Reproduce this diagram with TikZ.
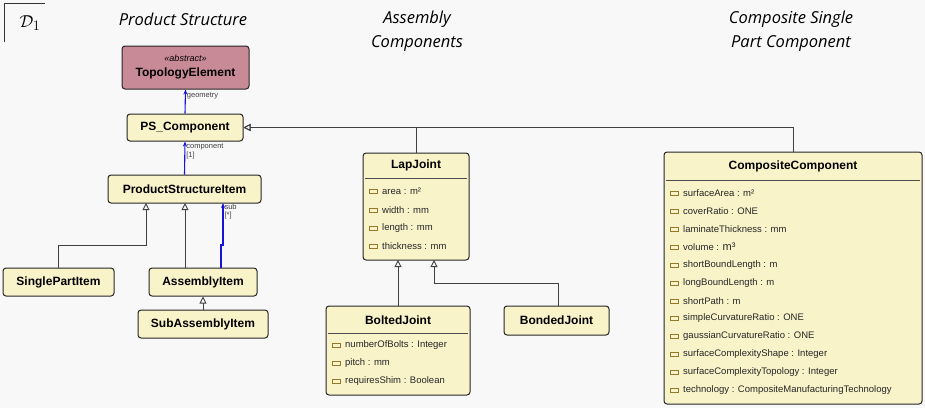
\documentclass[tikz,border=0pt]{standalone}
\usepackage{fontspec}
\setmainfont{Liberation Sans}
\newfontfamily\headfont{Open Sans}
\usetikzlibrary{arrows.meta}
\definecolor{boxfill}{RGB}{248,243,201}
\definecolor{absfill}{RGB}{200,138,150}
\definecolor{attr}{RGB}{150,120,40}
\definecolor{bg}{RGB}{248,248,248}
\definecolor{assoc}{RGB}{20,20,220}
\tikzset{
  cls/.style={draw=black!85, line width=1pt, fill=boxfill, rounded corners=3pt, inner sep=0pt, font=\bfseries\fontsize{12}{14}\selectfont},
  ttl/.style={font=\bfseries\fontsize{12}{14}\selectfont},
  attrtxt/.style={anchor=west, inner sep=0pt, font=\fontsize{9.5}{11}\selectfont, text=black!85},
  gen/.style={draw=black!75, line width=0.9pt, -{Triangle[open, length=7pt, width=7pt]}},
  asc/.style={draw=assoc, line width=1.1pt, -{Stealth[length=5pt,width=4pt]}},
  lbl/.style={inner sep=0pt, font=\fontsize{7.5}{8.5}\selectfont, text=black!75, anchor=west},
  head/.style={font=\headfont\itshape\fontsize{16.5}{24}\selectfont, align=center, text=black}
}
\newcommand{\attrrow}[3]{% x, y, text
  \draw[attr, line width=0.8pt, fill=boxfill] (#1pt,-#2pt+2pt) rectangle ++(8pt,-4pt);
  \node[attrtxt] at (#1pt+13pt,-#2pt) {#3};}
\begin{document}
\begin{tikzpicture}[x=1pt,y=1pt]
\useasboundingbox[fill=bg] (0,0) rectangle (925,-408);
% corner label
\draw[black!80, line width=0.8pt] (4,-42) -- (4,-3) -- (45,-3);
\node at (30,-23) {\fontsize{19}{22}\selectfont$\mathcal{D}_1$};
% headings
\node[head] (h1) at (183,-19) {Product Structure};
\node[head] (h2) at (417,-31) {Assembly\\Components};
\node[head] (h3) at (791,-31) {Composite Single\\Part Component};
% product structure
\node[cls, fill=absfill, minimum width=127pt, minimum height=43pt, align=center] (topo) at (185.5,-67.5)
  {{\mdseries\itshape\fontsize{9}{10}\selectfont «abstract»}\\[1pt]TopologyElement};
\node[cls, minimum width=116pt, minimum height=27pt] (psc) at (185,-127.5) {PS\_Component};
\node[cls, minimum width=153pt, minimum height=28pt] (psi) at (184.5,-189) {ProductStructureItem};
\node[cls, minimum width=111pt, minimum height=28pt] (spi) at (58.5,-282) {SinglePartItem};
\node[cls, minimum width=108pt, minimum height=28pt] (ai) at (203,-282) {AssemblyItem};
\node[cls, minimum width=130pt, minimum height=28pt] (sai) at (203,-324) {SubAssemblyItem};
\draw[asc] (psc.north) -- (topo.south) node[lbl, pos=0.75, xshift=1pt] {geometry};
\draw[asc] (psi.north) -- (psc.south) node[lbl, pos=0.7, xshift=1pt, align=left] {component\\{[1]}};
\draw[gen] (spi.north) |- (146,-245) -- (146,-203);
\draw[gen] (ai.north -| 185,0) -- (185,-203);
\draw[asc] (221,-268) -- (221,-245) -- (223,-245) -- (223,-203) node[lbl, pos=0.8, xshift=1pt, align=left] {sub\\{[*]}};
\draw[gen] (sai.north) -- (ai.south);
% LapJoint
\node[cls, minimum width=106pt, minimum height=107pt] (lap) at (416,-206.5) {};
\node[ttl] at (416,-165.5) {LapJoint};
\draw[black!70, line width=1pt] (365,-178) -- (467,-178);
\attrrow{369}{191}{area : m²}
\attrrow{369}{210}{width : mm}
\attrrow{369}{228}{length : mm}
\attrrow{369}{246}{thickness : mm}
% BoltedJoint
\node[cls, minimum width=144pt, minimum height=89pt] (bolt) at (398,-350.5) {};
\node[ttl] at (398,-320) {BoltedJoint};
\draw[black!70, line width=1pt] (328,-333) -- (468,-333);
\attrrow{332}{345}{numberOfBolts : Integer}
\attrrow{332}{363}{pitch : mm}
\attrrow{332}{381}{requiresShim : Boolean}
\node[cls, minimum width=105pt, minimum height=29pt] (bond) at (556.5,-320.5) {BondedJoint};
\draw[gen] (bolt.north -| 398,0) -- (398,-260);
\draw[gen] (bond.north -| 558,0) |- (434,-283) -- (434,-260);
% CompositeComponent
\node[cls, minimum width=258pt, minimum height=252pt] (comp) at (793,-278) {};
\node[ttl] at (793,-166) {CompositeComponent};
\draw[black!70, line width=1pt] (666,-180) -- (920,-180);
\attrrow{670}{193}{surfaceArea : m²}
\attrrow{670}{211}{coverRatio : ONE}
\attrrow{670}{229}{laminateThickness : mm}
\attrrow{670}{247}{volume : {\fontsize{11}{11}\selectfont m³}}
\attrrow{670}{265}{shortBoundLength : m}
\attrrow{670}{283}{longBoundLength : m}
\attrrow{670}{301}{shortPath : m}
\attrrow{670}{318}{simpleCurvatureRatio : ONE}
\attrrow{670}{336}{gaussianCurvatureRatio : ONE}
\attrrow{670}{354}{surfaceComplexityShape : Integer}
\attrrow{670}{372}{surfaceComplexityTopology : Integer}
\attrrow{670}{390}{technology : CompositeManufacturingTechnology}
% generalizations to PS_Component
\draw[gen] (lap.north) |- (psc.east);
\draw[gen] (comp.north) |- (psc.east);
\end{tikzpicture}
\end{document}
